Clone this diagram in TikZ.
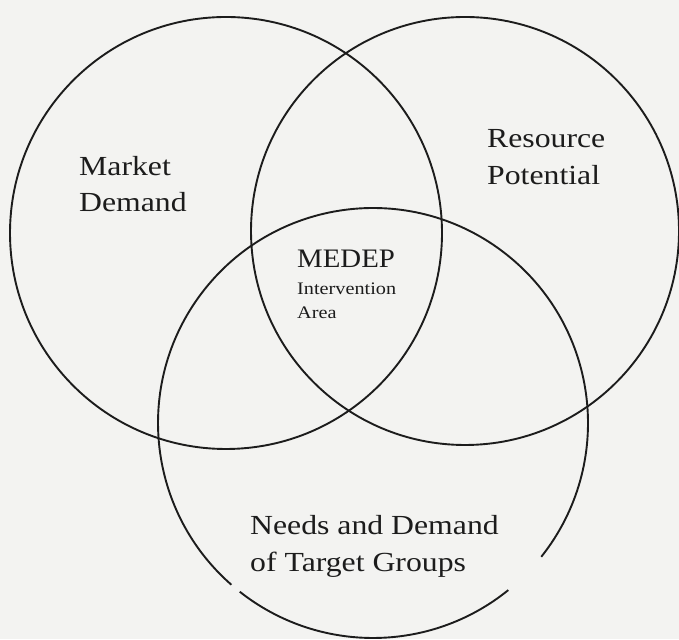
\documentclass[tikz,border=0pt]{standalone}
\usepackage{fontspec}
\setmainfont{Liberation Serif}
\newfontfamily\lblfont[FakeStretch=1.15]{Liberation Serif}
\newfontfamily\midfont[FakeStretch=1.08]{Liberation Serif}
\definecolor{paper}{HTML}{F3F3F1}
\definecolor{ink}{HTML}{1C1C1C}
\begin{document}
\begin{tikzpicture}[x=1pt,y=1pt,
  ring/.style={draw=ink,line width=1.9pt},
  % multi-line labels are placed by the baseline of their last line
  biglabel/.style={inner sep=0pt,anchor=base west,align=left,text=ink,
    font=\lblfont\fontsize{27.6}{36}\selectfont},
  smalllabel/.style={inner sep=0pt,anchor=base west,align=left,text=ink,
    font=\lblfont\fontsize{17.6}{24.5}\selectfont}]
  % page
  \fill[paper] (0,0) rectangle (679,639);
  \useasboundingbox (0,0) rectangle (679,639);

  % circle centres
  \coordinate (cm) at (226,406);
  \coordinate (cr) at (465,408);
  \coordinate (cn) at (373,216);

  % Market Demand and Resource Potential circles
  \draw[ring] (cm) circle[radius=216];
  \draw[ring] (cr) circle[radius=214];
  % target group circle, with its two small breaks at the bottom
  \draw[ring] (cn) ++(-38.5:215) arc[start angle=-38.5,end angle=228.8,radius=215];
  \draw[ring] (cn) ++(231.7:215) arc[start angle=231.7,end angle=309,radius=215];

  % labels
  \node[biglabel] (market) at (79,427) {Market\\Demand};
  \node[biglabel,font=\lblfont\fontsize{27.6}{37}\selectfont] (resource) at (487,454) {Resource\\Potential};
  \node[biglabel,font=\midfont\fontsize{26.7}{36}\selectfont] (medep) at (297,371) {MEDEP};
  \node[smalllabel] (area) at (297,320) {Intervention\\Area};
  \node[biglabel,font=\lblfont\fontsize{27.6}{37}\selectfont] (needs) at (250,67) {Needs and Demand\\of Target Groups};
\end{tikzpicture}
\end{document}
